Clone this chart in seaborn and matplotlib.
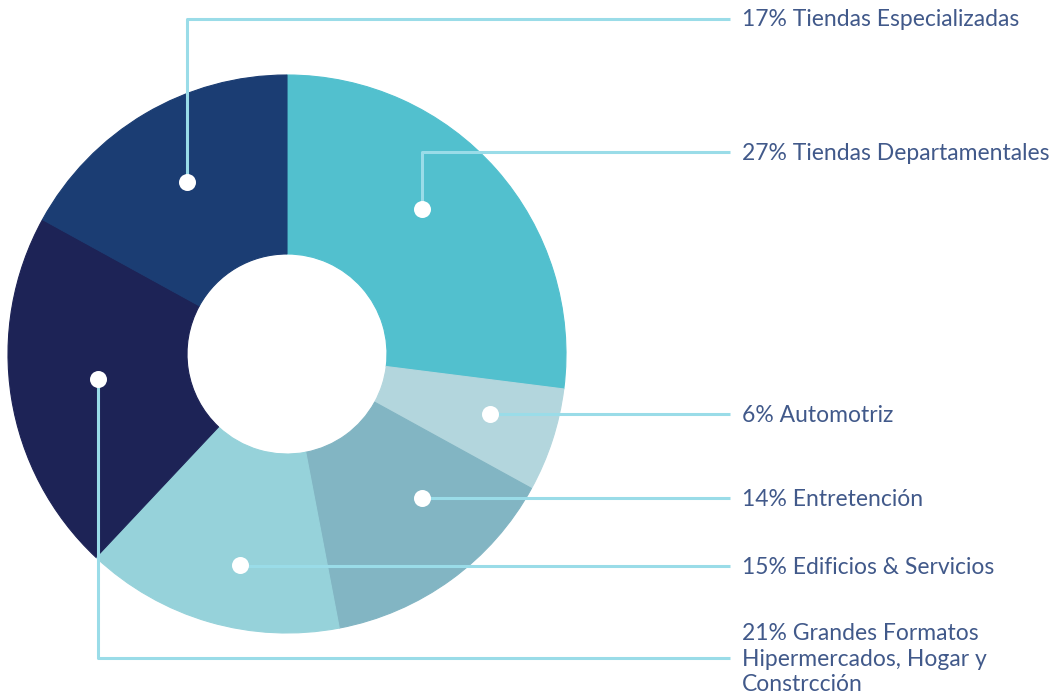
import matplotlib
matplotlib.use("Agg")
import matplotlib.pyplot as plt
import seaborn as sns

# data
labels = ["27% Tiendas Departamentales", "6% Automotriz", "14% Entretención",
          "15% Edificios & Servicios",
          "21% Grandes Formatos\nHipermercados, Hogar y\nConstrcción",
          "17% Tiendas Especializadas"]
shares = [27, 6, 14, 15, 21, 17]
colors = ["#52C0CE", "#B3D6DD", "#82B5C3", "#96D2DA", "#1D2356", "#1B3D73"]

# layout (pixel positions of dots, elbow and label rows)
dot_x = [422, 490, 422, 240, 98, 187]
dot_y = [209, 414, 498, 565, 379, 182]
row_y = [152, 414, 498, 566, 658, 19]

sns.set_theme(style="white")
plt.rcParams["font.family"] = ["Lato", "DejaVu Sans"]

fig = plt.figure(figsize=(10.64, 7), dpi=100)
ax = fig.add_axes([0, 0, 1, 1])

# y axis is flipped below, so start at -90 and run counterclock in data space
wedges, _ = ax.pie(shares, colors=colors, startangle=-90, counterclock=True,
                   center=(287, 354), radius=279,
                   wedgeprops=dict(width=179, linewidth=0.8))
for w, c in zip(wedges, colors):
    w.set_edgecolor(c)

ax.set_xlim(0, 1064)
ax.set_ylim(0, 700)
ax.set_aspect("equal")
ax.axis("off")

line_c = "#9ADCE8"
for lab, dx, dy, ry in zip(labels, dot_x, dot_y, row_y):
    ax.plot([dx, dx, 730], [dy, ry, ry], color=line_c, lw=2.2, zorder=3,
            solid_capstyle="butt")
    ax.scatter([dx], [dy], s=150, color="white", zorder=4, linewidths=0)
    ax.text(742, ry + 1, lab, fontsize=16.5, color="#41598A", va="center",
            ha="left", fontweight="normal", linespacing=1.27)

ax.invert_yaxis()
fig.savefig("out.png", dpi=100)
